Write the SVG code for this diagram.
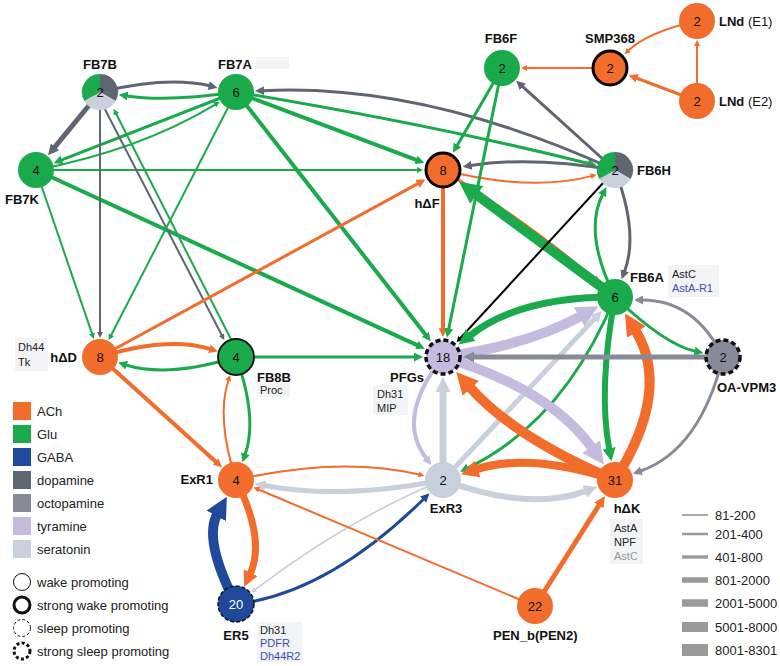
<svg xmlns="http://www.w3.org/2000/svg" width="780" height="666" viewBox="0 0 780 666">
<style>
text{font-family:"Liberation Sans",Arial,sans-serif}
.num{font-size:13px;text-anchor:middle;fill:#111}
.lbl{font-size:13px;font-weight:bold;fill:#111}
.reg{font-weight:normal}
.ann{font-size:11px;fill:#222}
.blue{fill:#3C4FB5}
.grey{fill:#999}
.box{fill:#F2F3F5}
.leg{font-size:13px;fill:#222}
.e{fill:none}
.ach{stroke:#F26C2C}.glu{stroke:#1AAA4B}.gaba{stroke:#1F4A9B}.dop{stroke:#5F6571}.oct{stroke:#868B97}.tyr{stroke:#C4BBDF}.ser{stroke:#C8D0DB}.blk{stroke:#000}
.wl{stroke:#9A9A9A}
</style>
<defs>
<marker id="ach-s" viewBox="0 0 10 10" refX="1" refY="5" markerWidth="3" markerHeight="3" orient="auto"><path d="M0,0L10,5L0,10z" fill="#F26C2C"/></marker>
<marker id="ach-b" viewBox="0 0 10 10" refX="1" refY="5" markerWidth="2.2" markerHeight="2.2" orient="auto"><path d="M0,0L10,5L0,10z" fill="#F26C2C"/></marker>
<marker id="glu-s" viewBox="0 0 10 10" refX="1" refY="5" markerWidth="3" markerHeight="3" orient="auto"><path d="M0,0L10,5L0,10z" fill="#1AAA4B"/></marker>
<marker id="glu-b" viewBox="0 0 10 10" refX="1" refY="5" markerWidth="2.2" markerHeight="2.2" orient="auto"><path d="M0,0L10,5L0,10z" fill="#1AAA4B"/></marker>
<marker id="gaba-s" viewBox="0 0 10 10" refX="1" refY="5" markerWidth="3" markerHeight="3" orient="auto"><path d="M0,0L10,5L0,10z" fill="#1F4A9B"/></marker>
<marker id="gaba-b" viewBox="0 0 10 10" refX="1" refY="5" markerWidth="2.2" markerHeight="2.2" orient="auto"><path d="M0,0L10,5L0,10z" fill="#1F4A9B"/></marker>
<marker id="dop-s" viewBox="0 0 10 10" refX="1" refY="5" markerWidth="3" markerHeight="3" orient="auto"><path d="M0,0L10,5L0,10z" fill="#5F6571"/></marker>
<marker id="dop-b" viewBox="0 0 10 10" refX="1" refY="5" markerWidth="2.2" markerHeight="2.2" orient="auto"><path d="M0,0L10,5L0,10z" fill="#5F6571"/></marker>
<marker id="oct-s" viewBox="0 0 10 10" refX="1" refY="5" markerWidth="3" markerHeight="3" orient="auto"><path d="M0,0L10,5L0,10z" fill="#868B97"/></marker>
<marker id="oct-b" viewBox="0 0 10 10" refX="1" refY="5" markerWidth="2.2" markerHeight="2.2" orient="auto"><path d="M0,0L10,5L0,10z" fill="#868B97"/></marker>
<marker id="tyr-b" viewBox="0 0 10 10" refX="1" refY="5" markerWidth="2.2" markerHeight="2.2" orient="auto"><path d="M0,0L10,5L0,10z" fill="#C4BBDF"/></marker>
<marker id="ser-s" viewBox="0 0 10 10" refX="1" refY="5" markerWidth="3" markerHeight="3" orient="auto"><path d="M0,0L10,5L0,10z" fill="#C8D0DB"/></marker>
<marker id="ser-b" viewBox="0 0 10 10" refX="1" refY="5" markerWidth="2.2" markerHeight="2.2" orient="auto"><path d="M0,0L10,5L0,10z" fill="#C8D0DB"/></marker>
<marker id="blk-s" viewBox="0 0 10 10" refX="1" refY="5" markerWidth="3" markerHeight="3" orient="auto"><path d="M0,0L10,5L0,10z" fill="#000"/></marker>
</defs>
<rect width="780" height="666" fill="#fff"/>

<!-- annotation boxes -->
<g id="annotations">
<rect class="box" x="256" y="57" width="33" height="12"/>
<rect class="box" x="668" y="265" width="51" height="32"/>
<text class="ann" x="672" y="278">AstC</text>
<text class="ann blue" x="672" y="292">AstA-R1</text>
<rect class="box" x="15" y="338" width="33" height="33"/>
<text class="ann" x="18" y="351">Dh44</text>
<text class="ann" x="18" y="366">Tk</text>
<rect class="box" x="257" y="383" width="33" height="14"/>
<text class="ann" x="260" y="394">Proc</text>
<rect class="box" x="373" y="385" width="35" height="30"/>
<text class="ann" x="377" y="398">Dh31</text>
<text class="ann" x="377" y="412">MIP</text>
<rect class="box" x="610" y="519" width="33" height="45"/>
<text class="ann" x="614" y="532">AstA</text>
<text class="ann" x="614" y="546">NPF</text>
<text class="ann grey" x="614" y="560">AstC</text>
<rect class="box" x="257" y="622" width="45" height="40"/>
<text class="ann" x="260" y="634">Dh31</text>
<text class="ann blue" x="260" y="647">PDFR</text>
<text class="ann blue" x="260" y="660">Dh44R2</text>
</g>

<g id="connectors">
<path class="e dop" stroke-width="3" marker-end="url(#dop-s)" d="M100,92 Q168,76 209.6,85.8"/>
<path class="e glu" stroke-width="3" marker-end="url(#glu-s)" d="M236,92 Q168,102 126.8,95.9"/>
<path class="e dop" stroke-width="5" marker-end="url(#dop-b)" d="M100,92 L54.3,147.7"/>
<path class="e glu" stroke-width="3" marker-end="url(#glu-s)" d="M236,92 L61.2,160.2"/>
<path class="e glu" stroke-width="2" marker-end="url(#glu-s)" d="M36,170 Q140,150 215.1,104.6"/>
<path class="e glu" stroke-width="2" marker-end="url(#glu-s)" d="M36,170 L417.6,170"/>
<path class="e glu" stroke-width="4" marker-end="url(#glu-b)" d="M36,170 L417.6,345.4"/>
<path class="e glu" stroke-width="2" marker-end="url(#glu-s)" d="M36,170 L92.1,333.9"/>
<path class="e dop" stroke-width="2" marker-end="url(#dop-s)" d="M100,92 L100,332.6"/>
<path class="e dop" stroke-width="2" marker-end="url(#dop-s)" d="M96,92 L221.8,335.3"/>
<path class="e glu" stroke-width="2" marker-end="url(#glu-s)" d="M240,357 L116.1,113.7"/>
<path class="e glu" stroke-width="2" marker-end="url(#glu-s)" d="M236,92 L111.1,335.3"/>
<path class="e glu" stroke-width="4" marker-end="url(#glu-b)" d="M236,92 L416.9,160.2"/>
<path class="e glu" stroke-width="4" marker-end="url(#glu-b)" d="M236,92 L425.8,335"/>
<path class="e glu" stroke-width="3" marker-end="url(#glu-s)" d="M236,92 Q430,124 588.7,163.5"/>
<path class="e dop" stroke-width="3" marker-end="url(#dop-s)" d="M615,170 Q425,83 263.1,90.7"/>
<path class="e dop" stroke-width="3" marker-end="url(#dop-s)" d="M615,170 L522.1,86.2"/>
<path class="e dop" stroke-width="3" marker-end="url(#dop-s)" d="M615,170 Q530,156 470.7,165.5"/>
<path class="e ach" stroke-width="2" marker-end="url(#ach-s)" d="M443,170 Q530,192 591.4,176.1"/>
<path class="e ach" stroke-width="3" marker-end="url(#ach-s)" d="M443,170 Q533.8,227 594.5,279.3"/>
<path class="e ach" stroke-width="4" marker-end="url(#ach-b)" d="M443,170 L443,329.1"/>
<path class="e glu" stroke-width="3" marker-end="url(#glu-s)" d="M502,68 L457,145.7"/>
<path class="e glu" stroke-width="3" marker-end="url(#glu-s)" d="M502,68 L448.6,329.5"/>
<path class="e ach" stroke-width="2" marker-end="url(#ach-s)" d="M610,68 L526.4,68"/>
<path class="e ach" stroke-width="2" marker-end="url(#ach-s)" d="M697,21 Q648,32 628.4,50.5"/>
<path class="e ach" stroke-width="3" marker-end="url(#ach-s)" d="M697,101 L636.3,78"/>
<path class="e ach" stroke-width="2" marker-end="url(#ach-s)" d="M697,101 L697,45.4"/>
<path class="e ach" stroke-width="3" marker-end="url(#ach-s)" d="M100,357 L418.3,183.4"/>
<path class="e glu" stroke-width="10" marker-end="url(#glu-b)" d="M615,297 L475,193.6"/>
<path class="e dop" stroke-width="3" marker-end="url(#dop-s)" d="M615,170 Q639,233 624.5,271.6"/>
<path class="e glu" stroke-width="3" marker-end="url(#glu-s)" d="M615,297 Q583,233 602.7,194.2"/>
<path class="e blk" stroke-width="2" marker-end="url(#blk-s)" d="M615,170 L460.2,338.3"/>
<path class="e glu" stroke-width="7" marker-end="url(#glu-b)" d="M615,297 Q518.5,296.8 469.5,335.9"/>
<path class="e tyr" stroke-width="10" marker-end="url(#tyr-b)" d="M443,357 Q529,345 581.1,315.9"/>
<path class="e ser" stroke-width="5" marker-end="url(#ser-b)" d="M443,480 L595.2,318.1"/>
<path class="e glu" stroke-width="3" marker-end="url(#glu-s)" d="M615,297 Q564,421.5 467.4,468.2"/>
<path class="e glu" stroke-width="6" marker-end="url(#glu-b)" d="M615,297 Q598,390 609.3,449.6"/>
<path class="e ach" stroke-width="10" marker-end="url(#ach-b)" d="M615,480 Q672,390 635.3,330.1"/>
<path class="e glu" stroke-width="3" marker-end="url(#glu-s)" d="M615,297 Q665,345 695.5,351.3"/>
<path class="e oct" stroke-width="3" marker-end="url(#oct-s)" d="M723,357 Q695,300 642.1,300"/>
<path class="e oct" stroke-width="5" marker-end="url(#oct-b)" d="M723,357 L472.9,357"/>
<path class="e oct" stroke-width="3" marker-end="url(#oct-s)" d="M723,357 Q700,450 640.6,471"/>
<path class="e tyr" stroke-width="10" marker-end="url(#tyr-b)" d="M443,357 Q550,389 592.4,448.4"/>
<path class="e ach" stroke-width="10" marker-end="url(#ach-b)" d="M615,480 Q515,438 469.4,386.7"/>
<path class="e tyr" stroke-width="4" marker-end="url(#tyr-b)" d="M443,357 Q395,418 426.5,458.7"/>
<path class="e ser" stroke-width="7" marker-end="url(#ser-b)" d="M443,480 L443,390.9"/>
<path class="e glu" stroke-width="3" marker-end="url(#glu-s)" d="M236,357 L414.9,357"/>
<path class="e ach" stroke-width="8" marker-end="url(#ach-b)" d="M615,480 Q530,452 476.1,469.4"/>
<path class="e ser" stroke-width="6" marker-end="url(#ser-b)" d="M443,480 Q530,512 586.1,490.9"/>
<path class="e ser" stroke-width="5" marker-end="url(#ser-b)" d="M443,480 Q340,500 264.4,485.5"/>
<path class="e ach" stroke-width="2" marker-end="url(#ach-s)" d="M236,480 Q340,456 419.2,474.5"/>
<path class="e ser" stroke-width="1.8" marker-end="url(#ser-s)" d="M443,480 Q350,518 255.1,589.6"/>
<path class="e gaba" stroke-width="3" marker-end="url(#gaba-s)" d="M236,604 Q327,594 423.7,499"/>
<path class="e ach" stroke-width="7" marker-end="url(#ach-b)" d="M236,480 Q266,540 250,574.2"/>
<path class="e gaba" stroke-width="10" marker-end="url(#gaba-b)" d="M236,604 Q203,540 217.3,514"/>
<path class="e ach" stroke-width="2" marker-end="url(#ach-s)" d="M535,606 L258.5,489.5"/>
<path class="e ach" stroke-width="5" marker-end="url(#ach-b)" d="M535,606 L599.5,504.4"/>
<path class="e ach" stroke-width="4" marker-end="url(#ach-b)" d="M100,357 L216.1,462"/>
<path class="e ach" stroke-width="4" marker-end="url(#ach-b)" d="M100,357 Q168,336 210.3,349.1"/>
<path class="e glu" stroke-width="3" marker-end="url(#glu-s)" d="M236,357 Q168,378 125.9,365"/>
<path class="e ach" stroke-width="2" marker-end="url(#ach-s)" d="M236,480 Q216,418 228.4,380.2"/>
<path class="e glu" stroke-width="3" marker-end="url(#glu-s)" d="M236,357 Q258,418 245.1,454.5"/>
</g>

<g id="n-FB7B">
<path d="M100,92 L100,74 A18,18 0 0 1 115.59,101 Z" fill="#5F6571"/>
<path d="M100,92 L115.59,101 A18,18 0 0 1 84.41,101 Z" fill="#C8D0DB"/>
<path d="M100,92 L84.41,101 A18,18 0 0 1 100,74 Z" fill="#1AAA4B"/>
<text class="num" x="100" y="96.5">2</text>
<text class="lbl" x="100" y="69" text-anchor="middle">FB7B</text>
</g>
<g id="n-FB7A">
<circle cx="236" cy="92" r="18" fill="#1AAA4B"/>
<text class="num" x="236" y="96.5">6</text>
<text class="lbl" x="235" y="69" text-anchor="middle">FB7A</text>
</g>
<g id="n-FB7K">
<circle cx="36" cy="170" r="18" fill="#1AAA4B"/>
<text class="num" x="36" y="174.5">4</text>
<text class="lbl" x="22" y="204" text-anchor="middle">FB7K</text>
</g>
<g id="n-FB6F">
<circle cx="502" cy="68" r="18" fill="#1AAA4B"/>
<text class="num" x="502" y="72.5">2</text>
<text class="lbl" x="501" y="43" text-anchor="middle">FB6F</text>
</g>
<g id="n-SMP368">
<circle cx="610" cy="68" r="17" fill="#F26C2C" stroke="#000" stroke-width="3"/>
<text class="num" x="610" y="72.5">2</text>
<text class="lbl" x="610" y="43" text-anchor="middle">SMP368</text>
</g>
<g id="n-LNdE1">
<circle cx="697" cy="21" r="18" fill="#F26C2C"/>
<text class="num" x="697" y="25.5">2</text>
<text class="lbl" x="719" y="26">LNd<tspan class="reg"> (E1)</tspan></text>
</g>
<g id="n-LNdE2">
<circle cx="697" cy="101" r="18" fill="#F26C2C"/>
<text class="num" x="697" y="105.5">2</text>
<text class="lbl" x="719" y="106">LNd<tspan class="reg"> (E2)</tspan></text>
</g>
<g id="n-hDF">
<circle cx="443" cy="170" r="17" fill="#F26C2C" stroke="#000" stroke-width="3"/>
<text class="num" x="443" y="174.5">8</text>
<text class="lbl" x="427" y="208" text-anchor="middle">hΔF</text>
</g>
<g id="n-FB6H">
<path d="M615,170 L615,152 A18,18 0 0 1 630.59,179 Z" fill="#5F6571"/>
<path d="M615,170 L630.59,179 A18,18 0 0 1 599.41,179 Z" fill="#C8D0DB"/>
<path d="M615,170 L599.41,179 A18,18 0 0 1 615,152 Z" fill="#1AAA4B"/>
<text class="num" x="615" y="174.5">2</text>
<text class="lbl" x="637" y="175">FB6H</text>
</g>
<g id="n-FB6A">
<circle cx="615" cy="297" r="18" fill="#1AAA4B"/>
<text class="num" x="615" y="301.5">6</text>
<text class="lbl" x="630" y="282">FB6A</text>
</g>
<g id="n-OAVPM3">
<circle cx="723" cy="357" r="17" fill="#868B97" stroke="#111" stroke-width="3.5" stroke-dasharray="5 3"/>
<text class="num" x="723" y="361.5">2</text>
<text class="lbl" x="717" y="392">OA-VPM3</text>
</g>
<g id="n-hDD">
<circle cx="100" cy="357" r="18" fill="#F26C2C"/>
<text class="num" x="100" y="361.5">8</text>
<text class="lbl" x="77" y="362" text-anchor="end">hΔD</text>
</g>
<g id="n-FB8B">
<circle cx="236" cy="357" r="18" fill="#1AAA4B" stroke="#111" stroke-width="1.8"/>
<text class="num" x="236" y="361.5">4</text>
<text class="lbl" x="257" y="382">FB8B</text>
</g>
<g id="n-PFGs">
<circle cx="443" cy="357" r="17" fill="#C4BBDF" stroke="#111" stroke-width="3.5" stroke-dasharray="5 3"/>
<text class="num" x="443" y="361.5">18</text>
<text class="lbl" x="424" y="382" text-anchor="end">PFGs</text>
</g>
<g id="n-ExR1">
<circle cx="236" cy="480" r="18" fill="#F26C2C"/>
<text class="num" x="236" y="484.5">4</text>
<text class="lbl" x="213" y="484" text-anchor="end">ExR1</text>
</g>
<g id="n-ExR3">
<circle cx="443" cy="480" r="18" fill="#C8D0DB"/>
<text class="num" x="443" y="484.5">2</text>
<text class="lbl" x="446" y="513" text-anchor="middle">ExR3</text>
</g>
<g id="n-hDK">
<circle cx="615" cy="480" r="18" fill="#F26C2C"/>
<text class="num" x="615" y="484.5">31</text>
<text class="lbl" x="627" y="513" text-anchor="middle">hΔK</text>
</g>
<g id="n-ER5">
<circle cx="236" cy="604" r="18" fill="#1F4A9B" stroke="#111" stroke-width="1.5" stroke-dasharray="4 2"/>
<text class="num" x="236" y="608.5" fill="#fff" style="fill:#fff">20</text>
<text class="lbl" x="236" y="640" text-anchor="middle">ER5</text>
</g>
<g id="n-PENb">
<circle cx="535" cy="606" r="18" fill="#F26C2C"/>
<text class="num" x="535" y="610.5">22</text>
<text class="lbl" x="493" y="640">PEN_b(PEN2)</text>
</g>

<g id="legend-colors">
<rect x="13" y="402" width="18" height="18" fill="#F26C2C"/><text class="leg" x="37" y="415.5">ACh</text>
<rect x="13" y="425" width="18" height="18" fill="#1AAA4B"/><text class="leg" x="37" y="438.5">Glu</text>
<rect x="13" y="448" width="18" height="18" fill="#1F4A9B"/><text class="leg" x="37" y="461.5">GABA</text>
<rect x="13" y="471" width="18" height="18" fill="#5F6571"/><text class="leg" x="37" y="484.5">dopamine</text>
<rect x="13" y="494" width="18" height="18" fill="#868B97"/><text class="leg" x="37" y="507.5">octopamine</text>
<rect x="13" y="517" width="18" height="18" fill="#C4BBDF"/><text class="leg" x="37" y="530.5">tyramine</text>
<rect x="13" y="540" width="18" height="18" fill="#C8D0DB"/><text class="leg" x="37" y="553.5">seratonin</text>
</g>
<g id="legend-promoting">
<circle cx="22" cy="582" r="8.5" fill="none" stroke="#111" stroke-width="1"/><text class="leg" x="37" y="586.5">wake promoting</text>
<circle cx="22" cy="605" r="8" fill="none" stroke="#111" stroke-width="3"/><text class="leg" x="37" y="609.5">strong wake promoting</text>
<circle cx="22" cy="628" r="8.5" fill="none" stroke="#111" stroke-width="1" stroke-dasharray="3 2"/><text class="leg" x="37" y="632.5">sleep promoting</text>
<circle cx="22" cy="651" r="8" fill="none" stroke="#111" stroke-width="3" stroke-dasharray="3 2.3"/><text class="leg" x="37" y="655.5">strong sleep promoting</text>
</g>
<g id="legend-widths">
<line class="wl" x1="682" y1="515" x2="708" y2="515" stroke-width="1.7"/><text class="leg" x="715" y="519.5">81-200</text>
<line class="wl" x1="682" y1="534" x2="708" y2="534" stroke-width="2.5"/><text class="leg" x="715" y="538.5">201-400</text>
<line class="wl" x1="682" y1="557" x2="708" y2="557" stroke-width="3.4"/><text class="leg" x="715" y="561.5">401-800</text>
<line class="wl" x1="682" y1="580" x2="708" y2="580" stroke-width="5.5"/><text class="leg" x="715" y="584.5">801-2000</text>
<line class="wl" x1="682" y1="603" x2="708" y2="603" stroke-width="7.5"/><text class="leg" x="715" y="607.5">2001-5000</text>
<line class="wl" x1="682" y1="627" x2="708" y2="627" stroke-width="10"/><text class="leg" x="715" y="631.5">5001-8000</text>
<line class="wl" x1="682" y1="650" x2="708" y2="650" stroke-width="12"/><text class="leg" x="715" y="654.5">8001-8301</text>
</g>
</svg>
